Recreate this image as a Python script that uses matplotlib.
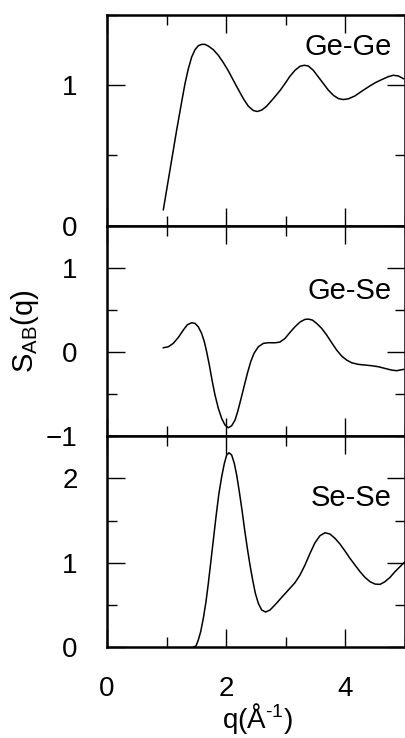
import matplotlib
matplotlib.use("Agg")
from matplotlib import pyplot as plt
from matplotlib.ticker import MultipleLocator

plt.rcParams['font.family'] = ['Liberation Sans', 'DejaVu Sans']
plt.rcParams['mathtext.fontset'] = 'custom'
plt.rcParams['mathtext.rm'] = 'Liberation Sans'
plt.rcParams['mathtext.it'] = 'Liberation Sans'

# partial structure factors S_AB(q)
gege_q = [0.945, 1.057, 1.169, 1.253, 1.309, 1.365, 1.421, 1.477, 1.532, 1.588,
          1.644, 1.700, 1.784, 1.868, 1.952, 2.036, 2.120, 2.204, 2.287, 2.371,
          2.455, 2.522, 2.595, 2.679, 2.791, 2.903, 2.987, 3.070, 3.154, 3.238,
          3.311, 3.378, 3.462, 3.546, 3.630, 3.714, 3.797, 3.881, 3.965, 4.049,
          4.161, 4.273, 4.385, 4.497, 4.609, 4.720, 4.804, 4.888, 4.972]
gege_s = [0.113, 0.397, 0.681, 0.882, 1.012, 1.118, 1.201, 1.253, 1.281, 1.291,
          1.291, 1.279, 1.253, 1.213, 1.161, 1.102, 1.035, 0.969, 0.905, 0.851,
          0.820, 0.813, 0.823, 0.851, 0.905, 0.962, 1.012, 1.064, 1.106, 1.135,
          1.142, 1.137, 1.106, 1.059, 1.012, 0.965, 0.929, 0.905, 0.898, 0.903,
          0.924, 0.957, 0.988, 1.017, 1.040, 1.061, 1.071, 1.066, 1.047]

gese_q = [0.945, 1.029, 1.112, 1.197, 1.280, 1.348, 1.421, 1.477, 1.532, 1.588,
          1.633, 1.672, 1.717, 1.762, 1.812, 1.868, 1.924, 1.980, 2.036, 2.092,
          2.148, 2.192, 2.243, 2.299, 2.355, 2.411, 2.466, 2.539, 2.623, 2.707,
          2.819, 2.903, 2.987, 3.070, 3.154, 3.238, 3.322, 3.378, 3.445, 3.518,
          3.602, 3.686, 3.770, 3.853, 3.937, 4.021, 4.105, 4.217, 4.329, 4.441,
          4.553, 4.664, 4.776, 4.860, 4.972]
gese_s = [0.051, 0.063, 0.103, 0.174, 0.261, 0.324, 0.348, 0.340, 0.300, 0.221,
          0.123, 0.004, -0.154, -0.332, -0.510, -0.668, -0.787, -0.866, -0.898, -0.874,
          -0.807, -0.708, -0.569, -0.411, -0.253, -0.115, -0.016, 0.063, 0.103, 0.111,
          0.110, 0.119, 0.162, 0.233, 0.300, 0.356, 0.388, 0.391, 0.380, 0.340,
          0.281, 0.202, 0.111, 0.024, -0.047, -0.095, -0.127, -0.146, -0.154, -0.162,
          -0.174, -0.194, -0.214, -0.221, -0.206]

sese_q = [1.45, 1.493, 1.532, 1.572, 1.616, 1.661, 1.700, 1.739, 1.784, 1.829,
          1.874, 1.924, 1.969, 2.008, 2.047, 2.092, 2.136, 2.176, 2.220, 2.265,
          2.310, 2.355, 2.399, 2.444, 2.489, 2.539, 2.595, 2.662, 2.735, 2.819,
          2.931, 3.043, 3.154, 3.238, 3.322, 3.406, 3.490, 3.574, 3.658, 3.742,
          3.826, 3.909, 3.993, 4.077, 4.161, 4.245, 4.329, 4.413, 4.497, 4.581,
          4.664, 4.748, 4.832, 4.916, 5.0]
sese_s = [0.0, 0.012, 0.083, 0.182, 0.340, 0.538, 0.755, 0.993, 1.269, 1.546,
          1.803, 2.021, 2.179, 2.278, 2.305, 2.278, 2.179, 2.040, 1.843, 1.625,
          1.388, 1.170, 0.973, 0.795, 0.637, 0.518, 0.439, 0.415, 0.439, 0.500,
          0.589, 0.676, 0.763, 0.854, 0.973, 1.111, 1.238, 1.321, 1.356, 1.340,
          1.289, 1.222, 1.139, 1.052, 0.973, 0.894, 0.826, 0.775, 0.747, 0.743,
          0.775, 0.826, 0.894, 0.953, 1.012]

panels = [("Ge-Ge", gege_q, gege_s, (0, 1.5), 0.848),
          ("Ge-Se", gese_q, gese_s, (-1, 1.5), 0.692),
          ("Se-Se", sese_q, sese_s, (0, 2.5), 0.705)]

fig, axes = plt.subplots(3, 1, figsize=(4.06, 7.38), dpi=100, sharex=True)
fig.subplots_adjust(left=107/406, right=405/406, top=1 - 15/738,
                    bottom=1 - 647/738, hspace=0)

for i, (ax, (name, q, s, ylim, ty)) in enumerate(zip(axes, panels)):
    ax.plot(q, s, color='black', lw=1.1, solid_joinstyle='round')
    ax.set_xlim(0, 5)
    ax.set_ylim(*ylim)
    ax.yaxis.set_major_locator(MultipleLocator(1))
    ax.yaxis.set_minor_locator(MultipleLocator(0.5))
    if i == 0:
        ax.xaxis.set_major_locator(MultipleLocator(1))
    else:
        ax.xaxis.set_major_locator(MultipleLocator(2))
        ax.xaxis.set_minor_locator(MultipleLocator(1))
    ax.tick_params(which='both', direction='in', top=True, right=True,
                   width=1.0, labelsize=20, pad=21)
    ax.tick_params(which='major', length=13)
    ax.tick_params(which='minor', length=7)
    for sp in ax.spines.values():
        sp.set_linewidth(1.8)
    ax.text(0.955, ty, name, transform=ax.transAxes, ha='right', va='center',
            fontsize=21)

axes[2].set_xticks([0, 2, 4])
axes[2].set_xticklabels(['0', '2', '4'])

fig.text(25/406, 1 - 331/738, r'S$_{\rm AB}$(q)', rotation=90,
         ha='center', va='center', fontsize=21)
fig.text(258/406, 2/738, r'q(Å$^{\text{-}1}$)', ha='center', va='bottom',
         fontsize=20)

fig.savefig('out.png', dpi=100)
